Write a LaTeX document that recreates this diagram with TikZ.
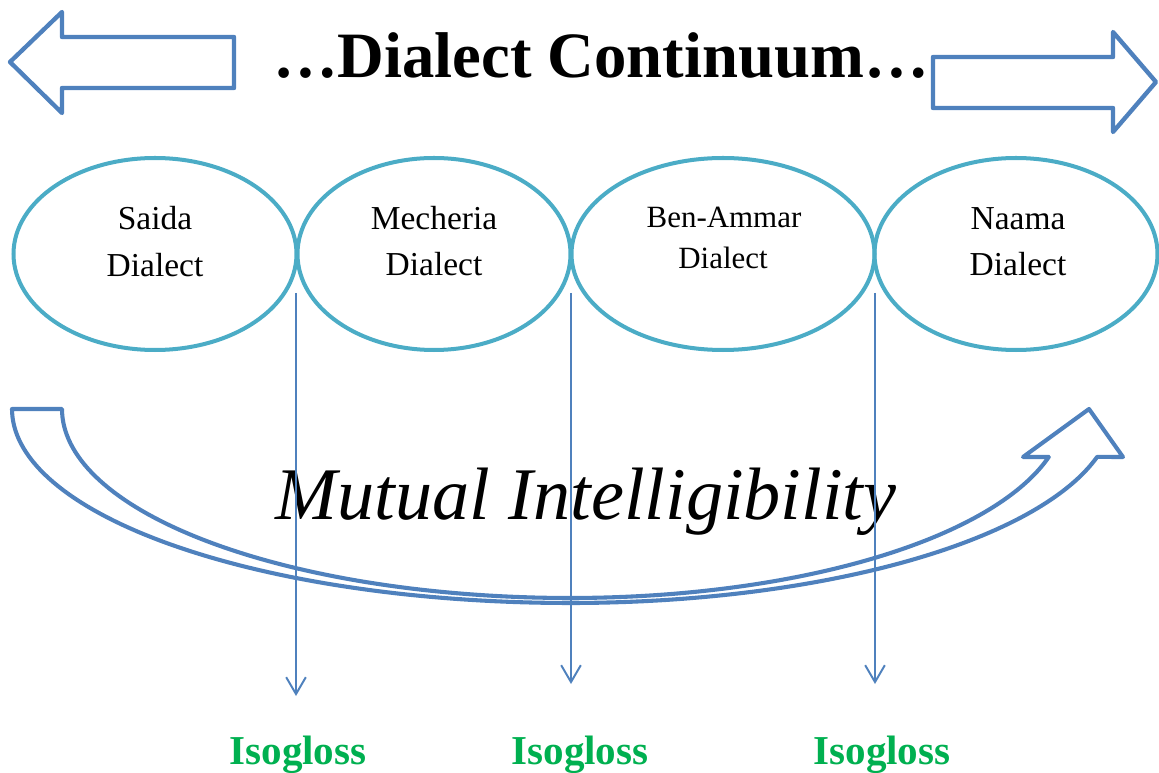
\documentclass[tikz,border=0pt]{standalone}
\usepackage{fontspec}
\setmainfont{Liberation Serif}
\usetikzlibrary{shapes.geometric,arrows.meta}
\definecolor{ringblue}{RGB}{75,172,198}
\definecolor{arrowblue}{RGB}{79,129,189}
\definecolor{glossgreen}{RGB}{0,176,80}
\tikzset{
  dialect/.style={draw=ringblue, line width=2.85pt, ellipse, inner sep=0pt,
    minimum width=#1*0.025cm, minimum height=192*0.025cm},
  dtext/.style={anchor=base, inner sep=0pt, font=\fontsize{23.8}{28}\selectfont},
  btext/.style={anchor=base, inner sep=0pt, font=\fontsize{22}{26}\selectfont},
  blockarrow/.style={draw=arrowblue, line width=3.1pt, line join=round},
  bendarrow/.style={draw=arrowblue, line width=2.9pt, line join=round},
  gloss/.style={draw=arrowblue, line width=1.4pt,
    -{Straight Barb[length=12pt,width=14pt,line width=1.4pt]}},
  glosstext/.style={anchor=base, inner sep=0pt, text=glossgreen,
    font=\fontsize{29.2}{34}\selectfont\bfseries},
}
\begin{document}
\begin{tikzpicture}[x=0.025cm, y=-0.025cm]
\useasboundingbox (0,0) rectangle (1159,773);

% heading and the two block arrows beside it
\node[anchor=base, inner sep=0pt, font=\fontsize{46}{52}\selectfont\bfseries] (title) at (601,78) {…Dialect Continuum…};
\draw[blockarrow] (234,37) -- (62,37) -- (62,12) -- (10,62) -- (62,113) -- (62,88) -- (234,88) -- cycle;
\draw[blockarrow] (933,57) -- (1113,57) -- (1113,32) -- (1156,82) -- (1113,132) -- (1113,108) -- (933,108) -- cycle;

% the four dialects
\node[dialect=283] (saida) at (155,254) {};
\node[dialect=273] (mecheria) at (434,254) {};
\node[dialect=303] (benammar) at (723,254) {};
\node[dialect=283] (naama) at (1016,254) {};

\node[dtext] (saidaA) at (155,230) {Saida};
\node[dtext] (saidaB) at (155,277) {Dialect};
\node[dtext] (mechA) at (434,230) {Mecheria};
\node[dtext] (mechB) at (434,276) {Dialect};
\node[btext] (benA) at (724,228) {Ben-Ammar};
\node[btext] (benB) at (723,269) {Dialect};
\node[dtext] (naamaA) at (1018,230) {Naama};
\node[dtext] (naamaB) at (1018,276) {Dialect};

% mutual intelligibility label
\node[anchor=base, inner sep=0pt, font=\fontsize{52.8}{60}\selectfont\itshape] (mutual) at (586,520) {Mutual Intelligibility};

% curved block arrow underneath
\draw[bendarrow] (12,409)
  -- plot[domain=180:90, samples=70] ({570+558*cos(\x)},{409+194*sin(\x)})
  -- plot[domain=90:14.3, samples=70] ({570+544*cos(\x)},{409+194*sin(\x)})
  -- (1123,457) -- (1089,409) -- (1023,457) -- (1049,457)
  -- plot[domain=14.7:90, samples=70] ({570+495*cos(\x)},{409+189*sin(\x)})
  -- plot[domain=90:180, samples=70] ({570+508*cos(\x)},{409+189*sin(\x)})
  -- cycle;

% isogloss boundaries
\coordinate (b1) at (296,293);
\coordinate (b2) at (571,293);
\coordinate (b3) at (875,293);
\coordinate (e1) at (296,696);
\coordinate (e2) at (571,684);
\coordinate (e3) at (875,684);
\draw[gloss] (b1) -- (e1);
\draw[gloss] (b2) -- (e2);
\draw[gloss] (b3) -- (e3);

\node[glosstext] (iso1) at (298,764) {Isogloss};
\node[glosstext] (iso2) at (580,764) {Isogloss};
\node[glosstext] (iso3) at (882,764) {Isogloss};
\end{tikzpicture}
\end{document}
